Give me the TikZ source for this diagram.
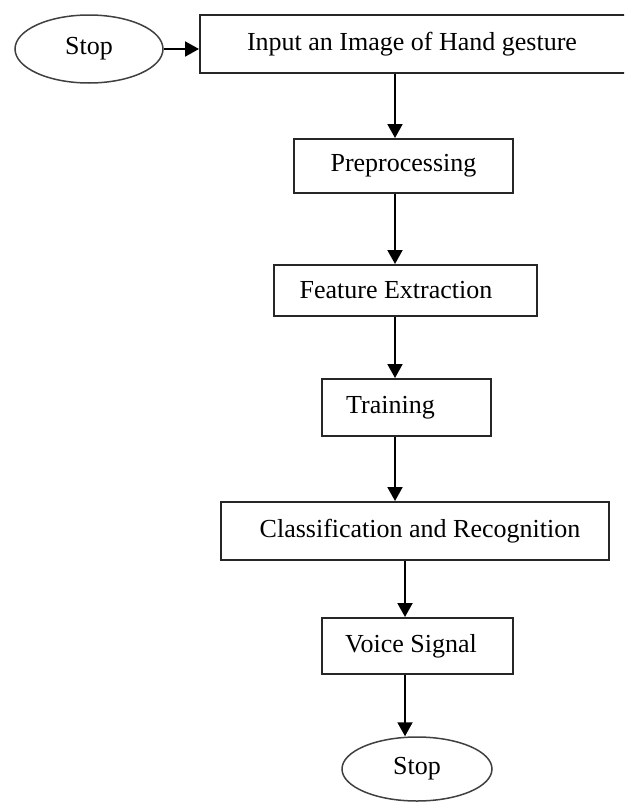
\documentclass[tikz,border=0pt]{standalone}
\usepackage{fontspec}
\setmainfont{Liberation Serif}
\usetikzlibrary{arrows.meta,shapes.geometric}
% shift the text of a node sideways without changing its box
\newcommand{\nudge}[2]{\hspace*{#1}#2\hspace*{-#1}}
\begin{document}
\begin{tikzpicture}[x=1pt,y=1pt,
  font=\fontsize{26}{30}\selectfont,
  stepbox/.style={draw=black!85, line width=2pt, rectangle, inner sep=0pt},
  terminal/.style={draw=black!75, line width=1.5pt, ellipse, inner sep=0pt},
  flow/.style={draw=black, line width=2pt, -{Triangle[length=14pt,width=15pt]}}]
\useasboundingbox (0,0) rectangle (624,-803);
\clip (0,0) rectangle (624,-803);

% terminals
\node[terminal, minimum width=148pt, minimum height=68pt] (start) at (89,-49) {Stop};
\node[terminal, minimum width=150pt, minimum height=64pt] (stop) at (417,-769) {Stop};

% processing steps
\node[stepbox, minimum width=430pt, minimum height=58pt] (input) at (415,-44)
  {\nudge{-3pt}{Input an Image of Hand gesture}};
\node[stepbox, minimum width=219pt, minimum height=54pt] (pre) at (403.5,-166)
  {Preprocessing};
\node[stepbox, minimum width=263pt, minimum height=51pt] (feat) at (405.5,-290.5)
  {\nudge{-9.5pt}{Feature Extraction}};
\node[stepbox, minimum width=169pt, minimum height=57pt] (train) at (406.5,-407.5)
  {\nudge{-16pt}{Training}};
\node[stepbox, minimum width=388pt, minimum height=58pt] (class) at (415,-531)
  {\nudge{5pt}{Classification and Recognition}};
\node[stepbox, minimum width=191pt, minimum height=56pt] (voice) at (417.5,-646)
  {\nudge{-6.5pt}{Voice Signal}};

% arrow columns
\coordinate (colA) at (395,0);
\coordinate (colB) at (405,0);

% connectors
\draw[flow] (start.east) -- (start.east -| input.west);
\draw[flow] (input.south -| colA) -- (pre.north -| colA);
\draw[flow] (pre.south -| colA) -- (feat.north -| colA);
\draw[flow] (feat.south -| colA) -- (train.north -| colA);
\draw[flow] (train.south -| colA) -- (class.north -| colA);
\draw[flow] (class.south -| colB) -- (voice.north -| colB);
\draw[flow] (voice.south -| colB) -- (stop.north -| colB);
\end{tikzpicture}
\end{document}
